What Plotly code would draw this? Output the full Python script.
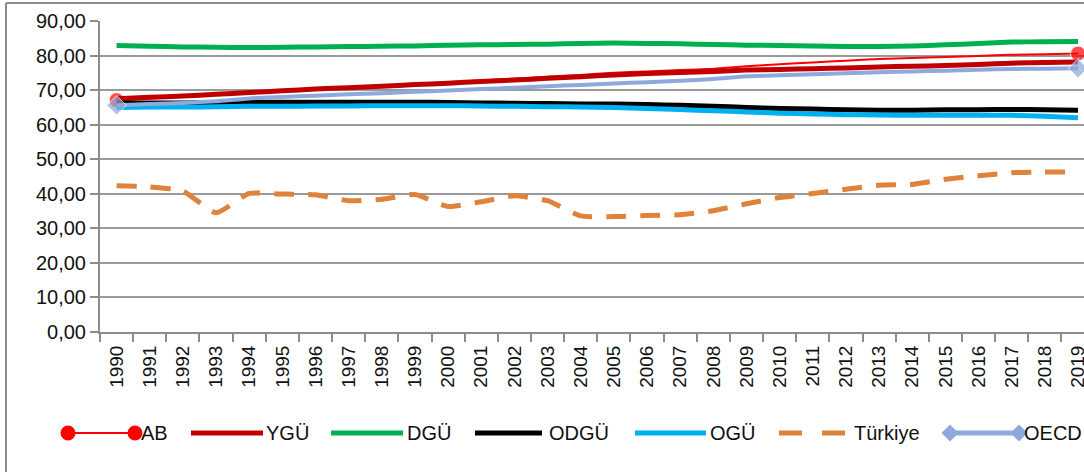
import plotly.graph_objects as go

years = [str(y) for y in range(1990, 2020)]

ab = [67.1, 67.6, 68.1, 68.6, 69.2, 69.8, 70.3, 70.8, 71.3, 71.8, 72.3, 72.8, 73.3, 73.9, 74.4,
      75.0, 75.4, 75.8, 76.2, 76.9, 77.5, 78.0, 78.5, 79.0, 79.3, 79.6, 79.9, 80.2, 80.4, 80.6]
ygu = [67.5, 67.9, 68.3, 68.8, 69.3, 69.8, 70.3, 70.7, 71.1, 71.6, 72.0, 72.5, 72.9, 73.4, 73.9,
       74.4, 74.8, 75.1, 75.4, 75.8, 76.0, 76.2, 76.4, 76.7, 76.9, 77.1, 77.4, 77.8, 78.0, 78.1]
dgu = [82.9, 82.7, 82.5, 82.4, 82.3, 82.4, 82.5, 82.6, 82.7, 82.8, 83.0, 83.1, 83.2, 83.3, 83.5,
       83.6, 83.5, 83.4, 83.2, 83.0, 82.9, 82.8, 82.6, 82.6, 82.8, 83.1, 83.5, 83.9, 84.0, 84.1]
odgu = [66.3, 66.3, 66.3, 66.4, 66.5, 66.5, 66.5, 66.5, 66.5, 66.5, 66.4, 66.3, 66.2, 66.1, 66.0,
        66.0, 65.8, 65.6, 65.3, 65.0, 64.7, 64.5, 64.3, 64.2, 64.2, 64.3, 64.3, 64.4, 64.3, 64.2]
ogu = [65.0, 65.1, 65.1, 65.2, 65.3, 65.3, 65.4, 65.4, 65.5, 65.5, 65.5, 65.4, 65.3, 65.2, 65.1,
       65.0, 64.7, 64.4, 64.0, 63.7, 63.3, 63.1, 62.9, 62.8, 62.7, 62.7, 62.7, 62.7, 62.4, 62.0]
turkiye = [42.3, 42.0, 40.8, 34.5, 40.1, 39.9, 39.7, 38.0, 38.4, 39.8, 36.3, 37.7, 39.4, 38.0, 33.6,
           33.4, 33.7, 33.9, 35.1, 37.1, 38.9, 40.1, 41.3, 42.5, 42.7, 44.2, 45.2, 46.1, 46.3, 46.3]
oecd = [65.6, 66.0, 66.3, 66.8, 67.6, 68.0, 68.4, 68.8, 69.1, 69.5, 69.9, 70.3, 70.7, 71.1, 71.5,
        71.9, 72.3, 72.7, 73.2, 74.0, 74.3, 74.6, 74.9, 75.2, 75.4, 75.6, 75.9, 76.1, 76.2, 76.3]

names = ["AB", "YGÜ", "DGÜ", "ODGÜ", "OGÜ", "Türkiye", "OECD"]
series = [ab, ygu, dgu, odgu, ogu, turkiye, oecd]
colors = ["#FF0000", "#C00000", "#00B050", "#000000", "#00B0F0", "#E0823A", "#8EA9DB"]
widths = [2, 5, 5, 5, 5, 5, 4]
dashes = ["solid", "solid", "solid", "solid", "solid", "20px,14px", "solid"]
symbols = ["circle", None, None, None, None, None, "diamond"]

W, H = 1084, 472
# plot-area edges in pixels
PL, PR, PT, PB = 100, 1084, 21, 332
LEG_Y = 433
# legend entries (pixels): (line start, line end, text start)
leg_pos = [(68, 135, 141), (191, 263, 266), (331, 403, 407), (475, 542, 549),
           (635, 706, 710), (779, 845, 854), (950, 1019, 1024)]

def pxx(x):
    return (x - PL) / (PR - PL)

def pxy(y):
    return (PB - y) / (PB - PT)

n = len(years)
end_sizes = [15] + [0] * (n - 2) + [15]

fig = go.Figure()
for name, vals, c, w, d, s in zip(names, series, colors, widths, dashes, symbols):
    kw = dict(mode="lines")
    if s:
        kw = dict(mode="lines+markers", marker=dict(symbol=s, size=end_sizes, color=c))
    fig.add_trace(go.Scatter(x=years, y=vals, name=name, cliponaxis=False, showlegend=False,
                             line=dict(color=c, width=w, dash=d, shape="spline", smoothing=0.5),
                             **kw))

font = "Liberation Sans, Arial, sans-serif"

fig.update_layout(
    width=W, height=H,
    margin=dict(l=PL, r=W - PR, t=PT, b=H - PB, autoexpand=False),
    paper_bgcolor="white", plot_bgcolor="white",
    separators=",.",
    font=dict(family=font, size=20, color="#111111"),
    showlegend=False,
    xaxis=dict(type="category", range=[-0.5, 29.18], tickangle=-90, tickson="boundaries",
               ticks="outside", ticklen=8, tickcolor="#8C8C8C", tickwidth=2,
               showline=True, linecolor="#8C8C8C", linewidth=2, showgrid=False,
               tickfont=dict(size=19), ticklabelstandoff=4, fixedrange=True, automargin=False),
    yaxis=dict(range=[0, 90], dtick=10, tickformat=".2f", ticks="outside", ticklen=8,
               tickcolor="#8C8C8C", tickwidth=2, showline=True, linecolor="#8C8C8C",
               linewidth=2, showgrid=True, gridcolor="#9A9A9A", gridwidth=2,
               zeroline=False, tickfont=dict(size=20), fixedrange=True, automargin=False),
)

# outer chart-area border (left and top edges visible)
fig.add_shape(type="line", xref="paper", yref="paper", x0=pxx(6), x1=pxx(6), y0=pxy(3), y1=pxy(480),
              line=dict(color="#8C8C8C", width=2))
fig.add_shape(type="line", xref="paper", yref="paper", x0=pxx(6), x1=1.0, y0=pxy(3), y1=pxy(3),
              line=dict(color="#8C8C8C", width=2))

# legend drawn below the plot
ly = pxy(LEG_Y)
for (x0, x1, xt), name, c, w, d, s in zip(leg_pos, names, colors, widths, dashes, symbols):
    ld = "23px,20px" if d != "solid" else "solid"
    fig.add_shape(type="line", xref="paper", yref="paper", x0=pxx(x0), x1=pxx(x1), y0=ly, y1=ly,
                  line=dict(color=c, width=w + (1 if w == 4 else 0), dash=ld))
    if s == "circle":
        r = 7.5
        for xc in (x0, x1):
            fig.add_shape(type="circle", xref="paper", yref="paper",
                          x0=pxx(xc - r), x1=pxx(xc + r), y0=pxy(LEG_Y + r), y1=pxy(LEG_Y - r),
                          fillcolor=c, line=dict(color=c, width=0))
    elif s == "diamond":
        r = 8.5
        for xc in (x0, x1):
            path = (f"M {pxx(xc - r)},{ly} L {pxx(xc)},{pxy(LEG_Y - r)} "
                    f"L {pxx(xc + r)},{ly} L {pxx(xc)},{pxy(LEG_Y + r)} Z")
            fig.add_shape(type="path", xref="paper", yref="paper", path=path,
                          fillcolor=c, line=dict(color=c, width=0))
    fig.add_annotation(xref="paper", yref="paper", x=pxx(xt), y=ly, text=name, showarrow=False,
                       xanchor="left", yanchor="middle", xshift=-2,
                       font=dict(size=20, color="#111111"))

fig.write_html("out.html", config={"displayModeBar": False},
               post_script="document.body.style.margin='0';document.body.style.overflow='hidden';")
